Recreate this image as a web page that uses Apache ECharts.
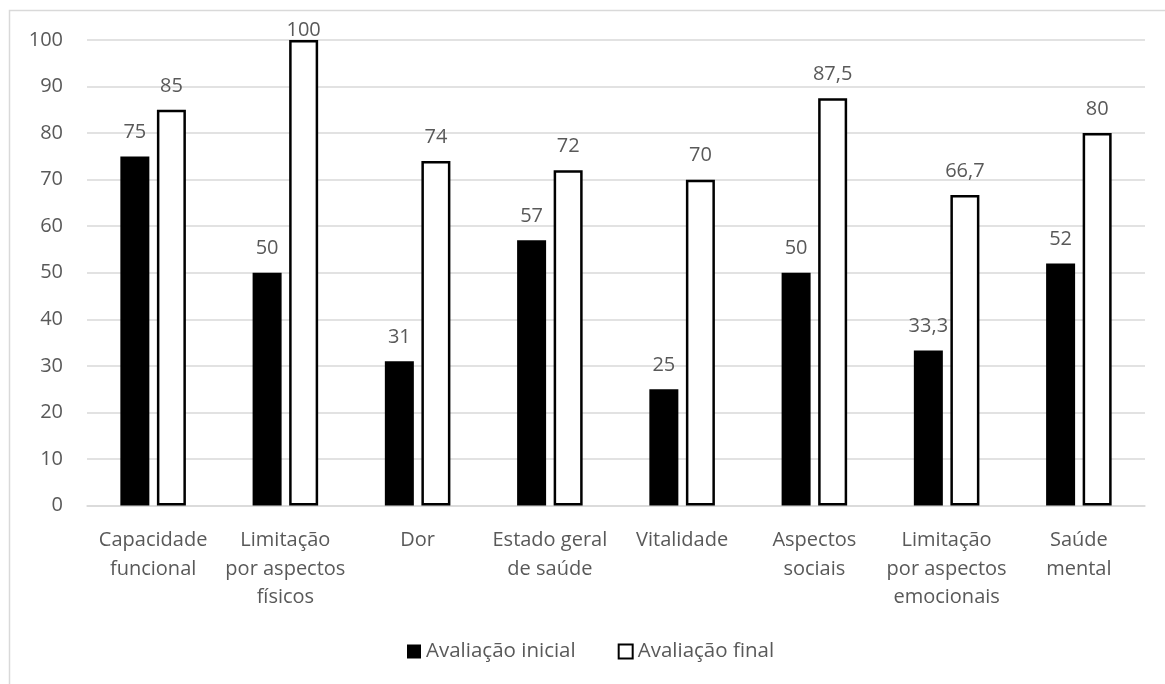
<!DOCTYPE html>
<html>
<head>
<meta charset="utf-8">
<script src="https://cdn.jsdelivr.net/npm/echarts@6/dist/echarts.min.js"></script>
<style>
  html, body { margin: 0; padding: 0; background: #ffffff; }
  #chart { width: 1165px; height: 684px; }
</style>
</head>
<body>
<div id="chart"></div>
<script>
// SF-36 domains and scores at the first and last assessment
const categories = [
  'Capacidade\nfuncional',
  'Limitação\npor aspectos\nfísicos',
  'Dor',
  'Estado geral\nde saúde',
  'Vitalidade',
  'Aspectos\nsociais',
  'Limitação\npor aspectos\nemocionais',
  'Saúde\nmental'
];
const seriesNames = ['Avaliação inicial', 'Avaliação final'];
const avaliacaoInicial = [75, 50, 31, 57, 25, 50, 33.3, 52];
const avaliacaoFinal = [85, 100, 74, 72, 70, 87.5, 66.7, 80];
const yTicks = { min: 0, max: 100, interval: 10 };

const FONT = '"Open Sans", "Noto Sans", sans-serif';
const TEXT = '#595959';
const GRID = '#d9d9d9';

// Labels use a decimal comma; values at the axis ceiling sit closer to the bar
function toData(values) {
  return values.map(v => v >= yTicks.max
    ? { value: v, label: { distance: 0 } }
    : v);
}
const fmt = p => String(p.value).replace('.', ',');

const chart = echarts.init(document.getElementById('chart'), null, { renderer: 'canvas' });
chart.setOption({
  animation: false,
  backgroundColor: '#ffffff',
  textStyle: { fontFamily: FONT },
  graphic: [{
    type: 'rect',
    shape: { x: 9.5, y: 10.5, width: 1200, height: 700 },
    style: { fill: 'none', stroke: GRID, lineWidth: 1.5 },
    silent: true,
    z: -1
  }],
  grid: { left: 87, right: 20, top: 40, bottom: 178.5 },
  legend: {
    data: [
      { name: seriesNames[0], icon: 'rect', itemStyle: { color: '#000000' } },
      { name: seriesNames[1], icon: 'rect', itemStyle: { color: '#ffffff', borderColor: '#000000', borderWidth: 2 } }
    ],
    left: 407,
    top: 641,
    padding: 0,
    itemWidth: 14,
    itemHeight: 14,
    itemGap: 42,
    textStyle: { color: TEXT, fontSize: 20.5, fontFamily: FONT }
  },
  xAxis: {
    type: 'category',
    data: categories,
    axisLine: { lineStyle: { color: GRID, width: 1.5 } },
    axisTick: { show: false },
    axisLabel: {
      interval: 0,
      margin: 21,
      color: TEXT,
      fontSize: 20,
      lineHeight: 28.5,
      fontFamily: FONT,
      align: 'center'
    }
  },
  yAxis: {
    type: 'value',
    min: yTicks.min,
    max: yTicks.max,
    interval: yTicks.interval,
    axisLine: { show: false },
    axisTick: { show: false },
    axisLabel: { color: TEXT, fontSize: 20, margin: 24, fontFamily: FONT },
    splitLine: { lineStyle: { color: GRID, width: 1.5 } }
  },
  series: [
    {
      name: seriesNames[0],
      type: 'bar',
      data: toData(avaliacaoInicial),
      barWidth: 29,
      barGap: '26%',
      itemStyle: { color: '#000000' },
      label: {
        show: true, position: 'top', distance: 14,
        color: TEXT, fontSize: 20, fontFamily: FONT, formatter: fmt
      }
    },
    {
      name: seriesNames[1],
      type: 'bar',
      data: toData(avaliacaoFinal),
      barWidth: 29,
      itemStyle: { color: '#ffffff', borderColor: '#000000', borderWidth: 2.5 },
      label: {
        show: true, position: 'top', distance: 14,
        color: TEXT, fontSize: 20, fontFamily: FONT, formatter: fmt
      }
    }
  ]
});
</script>
</body>
</html>
